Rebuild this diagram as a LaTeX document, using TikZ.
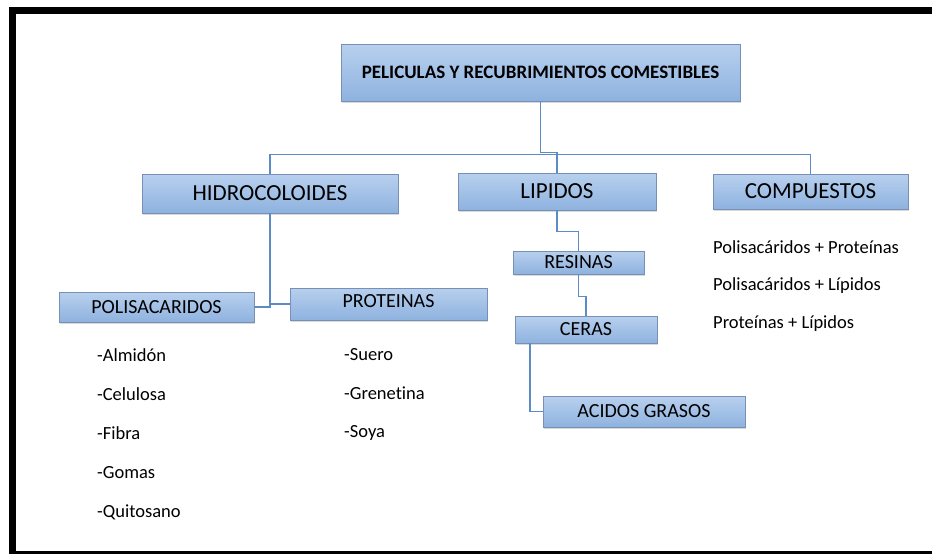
\documentclass[tikz,border=0pt]{standalone}
\usepackage{fontspec}
\setmainfont{Carlito}[Ligatures=NoCommon]
\usetikzlibrary{shadows}
\definecolor{boxtop}{HTML}{B8D0EE}
\definecolor{boxbot}{HTML}{8EB2DF}
\definecolor{boxline}{HTML}{7890B4}
\definecolor{linkblue}{HTML}{5B8CC6}
\tikzstyle{box}=[rectangle, top color=boxtop, bottom color=boxbot, draw=boxline, line width=0.8pt, inner sep=0pt, anchor=center, drop shadow={opacity=0.3, shadow xshift=1.2pt, shadow yshift=-1.5pt}]
\tikzstyle{link}=[draw=linkblue, line width=1.3pt]
\tikzstyle{annot}=[anchor=west, inner sep=0pt, font=\fontsize{18.5}{20}\selectfont]
\tikzstyle{big}=[font=\fontsize{23}{26}\selectfont]
\tikzstyle{small}=[font=\fontsize{20}{22}\selectfont]
\begin{document}
\begin{tikzpicture}[x=1pt, y=-1pt]
	\useasboundingbox (0,0) rectangle (932,554);
	\clip (0,0) rectangle (932,554);
	% frame
	\draw[line width=6.5pt] (940,10.5) -- (12.5,10.5) -- (12.5,560);
	\draw[line width=7pt] (12.5,554.5) -- (940,554.5);

	\node[box, minimum width=399pt, minimum height=57pt, font=\bfseries\fontsize{19}{21}\selectfont](title) at (540.5,72.5){PELICULAS Y RECUBRIMIENTOS COMESTIBLES};

	\node[box, big, minimum width=256pt, minimum height=39pt](hidro) at (270,193.5){HIDROCOLOIDES};
	\node[box, big, minimum width=198pt, minimum height=37pt](lipidos) at (557,191.5){LIPIDOS};
	\node[box, big, minimum width=195pt, minimum height=35pt](compuestos) at (810.5,191.5){COMPUESTOS};

	\node[box, small, minimum width=195pt, minimum height=30pt](polisac) at (156.5,307){POLISACARIDOS};
	\node[box, small, minimum width=197pt, minimum height=32pt, text depth=6pt](proteinas) at (388.5,304){PROTEINAS};

	\node[box, small, minimum width=131pt, minimum height=23pt](resinas) at (578.5,262.5){RESINAS};
	\node[box, small, minimum width=142pt, minimum height=27pt](ceras) at (586,329.5){CERAS};
	\node[box, small, minimum width=202pt, minimum height=31pt](acidos) at (644,411.5){ACIDOS GRASOS};

	% connectors
	\draw[link] (title.south) -- ++(0,51) -| (lipidos.north);
	\draw[link] (hidro.north) -- ++(0,-19) -| (compuestos.north);
	\draw[link] (polisac.east) -| (hidro.south);
	\draw[link] (hidro.south) |- (proteinas.west);
	\draw[link] (lipidos.south) -- ++(0,21) -| (resinas.north);
	\draw[link] (resinas.south) -- ++(0,22) -| (ceras.north);
	\draw[link] ([xshift=-56pt]ceras.south) |- (acidos.west);

	% lists
	\node[annot](almidon) at (97,355){-Almidón};
	\node[annot](celulosa) at (97,394.3){-Celulosa};
	\node[annot](fibra) at (97,433.6){-Fibra};
	\node[annot](gomas) at (97,472.9){-Gomas};
	\node[annot](quitosano) at (97,512.2){-Quitosano};

	\node[annot](suero) at (344,355){-Suero};
	\node[annot](grenetina) at (344,393.5){-Grenetina};
	\node[annot](soya) at (344,432.5){-Soya};

	\node[annot](polprot) at (713,247){Polisacáridos + Proteínas};
	\node[annot](pollip) at (713,286){Polisacáridos + Lípidos};
	\node[annot](protlip) at (713,324){Proteínas + Lípidos};
\end{tikzpicture}
\end{document}
